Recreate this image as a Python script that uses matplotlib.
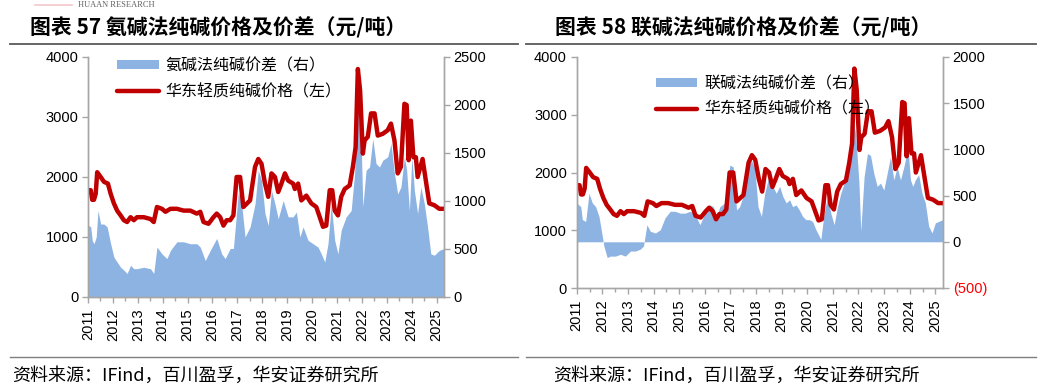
import matplotlib
matplotlib.use("Agg")
import matplotlib.pyplot as plt
from matplotlib.lines import Line2D
from matplotlib.patches import Patch
from matplotlib.ticker import FuncFormatter, MultipleLocator

plt.rcParams['font.family'] = ['Liberation Sans', 'Noto Sans CJK SC', 'DejaVu Sans']
CJK = ['Noto Sans CJK SC', 'DejaVu Sans']

# ---------------- data ----------------
# East China light soda ash price (yuan/t, left axis) - decimal year positions
price_t = [2011.00, 2011.11, 2011.17, 2011.24, 2011.31, 2011.37, 2011.51, 2011.64, 2011.80, 2011.91,
           2012.04, 2012.17, 2012.31, 2012.44, 2012.57, 2012.71, 2012.84, 2012.97, 2013.24, 2013.51,
           2013.64, 2013.77, 2013.97, 2014.11, 2014.31, 2014.57, 2014.84, 2015.11, 2015.37, 2015.51,
           2015.64, 2015.84, 2016.04, 2016.17, 2016.31, 2016.44, 2016.57, 2016.71, 2016.84, 2016.97,
           2017.11, 2017.24, 2017.51, 2017.71, 2017.84, 2017.97, 2018.11, 2018.24, 2018.37, 2018.51,
           2018.64, 2018.77, 2018.91, 2019.04, 2019.24, 2019.31, 2019.44, 2019.57, 2019.77, 2019.97,
           2020.17, 2020.31, 2020.44, 2020.57, 2020.71, 2020.81, 2020.91, 2021.04, 2021.17, 2021.31,
           2021.51, 2021.64, 2021.75, 2021.84, 2021.93, 2022.04, 2022.11, 2022.24, 2022.37, 2022.51,
           2022.64, 2022.84, 2023.04, 2023.17, 2023.31, 2023.44, 2023.57, 2023.71, 2023.80, 2023.88,
           2023.97, 2024.07, 2024.17, 2024.24, 2024.44, 2024.57, 2024.71, 2024.91, 2025.11, 2025.30]
price_v = [1780, 1780, 1620, 1620, 1720, 2080, 2000, 1920, 1890, 1720,
           1560, 1440, 1360, 1280, 1250, 1330, 1280, 1330, 1330, 1300,
           1250, 1500, 1470, 1420, 1470, 1470, 1440, 1440, 1390, 1420,
           1250, 1220, 1330, 1390, 1330, 1190, 1280, 1280, 1360, 2000,
           2000, 1500, 1610, 2170, 2300, 2220, 1890, 1670, 2060, 2000,
           1750, 1890, 2060, 1940, 1890, 1800, 1890, 1610, 1690, 1560,
           1500, 1330, 1170, 1190, 1780, 1780, 1440, 1360, 1670, 1800,
           1860, 2170, 2500, 3800, 3440, 2390, 2610, 2670, 3060, 3060,
           2690, 2720, 2780, 2890, 2610, 2060, 2170, 3220, 3200, 2280,
           2940, 2330, 2330, 2000, 2300, 1940, 1560, 1530, 1470, 1470]

# Ammonia-soda process spread (yuan/t, right axis)
sp57_t = [2011.00, 2011.11, 2011.17, 2011.24, 2011.33, 2011.40, 2011.51, 2011.64, 2011.77, 2011.91,
          2012.04, 2012.17, 2012.31, 2012.44, 2012.57, 2012.71, 2012.84, 2012.97, 2013.24, 2013.51,
          2013.64, 2013.77, 2013.97, 2014.17, 2014.31, 2014.57, 2014.84, 2015.11, 2015.37, 2015.51,
          2015.71, 2015.91, 2016.17, 2016.37, 2016.51, 2016.71, 2016.84, 2017.04, 2017.17, 2017.31,
          2017.51, 2017.71, 2017.84, 2017.97, 2018.11, 2018.24, 2018.37, 2018.51, 2018.64, 2018.84,
          2019.04, 2019.24, 2019.37, 2019.51, 2019.64, 2019.84, 2020.04, 2020.24, 2020.37, 2020.51,
          2020.64, 2020.77, 2020.91, 2021.04, 2021.17, 2021.37, 2021.57, 2021.71, 2021.84, 2021.97,
          2022.04, 2022.17, 2022.31, 2022.44, 2022.57, 2022.71, 2022.84, 2023.04, 2023.17, 2023.31,
          2023.44, 2023.57, 2023.71, 2023.80, 2023.91, 2024.01, 2024.11, 2024.24, 2024.37, 2024.51,
          2024.64, 2024.77, 2024.91, 2025.11, 2025.30]
sp57_v = [750, 730, 590, 555, 625, 900, 760, 760, 730, 555,
          415, 365, 310, 280, 245, 330, 295, 295, 310, 295,
          245, 520, 450, 400, 485, 575, 575, 555, 555, 520,
          380, 485, 610, 450, 400, 505, 505, 1095, 970, 625,
          730, 970, 1320, 1215, 870, 745, 1110, 970, 815, 1005,
          835, 835, 885, 625, 730, 590, 555, 520, 450, 365,
          555, 970, 590, 450, 695, 835, 900, 1285, 1980, 1630,
          940, 1320, 1355, 1650, 1390, 1355, 1425, 1460, 1600, 1285,
          1075, 1145, 1460, 1320, 900, 1460, 1110, 870, 1145, 970,
          730, 450, 435, 485, 505]

# Joint-soda process spread (yuan/t, right axis)
sp58_t = [2011.00, 2011.16, 2011.22, 2011.35, 2011.48, 2011.61, 2011.74, 2011.87, 2012.00, 2012.06,
          2012.19, 2012.32, 2012.51, 2012.71, 2012.90, 2013.10, 2013.29, 2013.48, 2013.61, 2013.74,
          2013.87, 2014.07, 2014.26, 2014.45, 2014.65, 2014.84, 2015.04, 2015.23, 2015.42, 2015.55,
          2015.68, 2015.81, 2016.01, 2016.20, 2016.33, 2016.46, 2016.59, 2016.78, 2016.98, 2017.11,
          2017.24, 2017.36, 2017.49, 2017.69, 2017.82, 2017.95, 2018.08, 2018.21, 2018.34, 2018.53,
          2018.66, 2018.79, 2018.92, 2019.05, 2019.18, 2019.31, 2019.43, 2019.56, 2019.69, 2019.82,
          2019.95, 2020.08, 2020.21, 2020.34, 2020.47, 2020.53, 2020.66, 2020.79, 2020.92, 2021.05,
          2021.18, 2021.31, 2021.44, 2021.57, 2021.70, 2021.79, 2021.89, 2022.02, 2022.09, 2022.22,
          2022.35, 2022.47, 2022.60, 2022.73, 2022.86, 2022.99, 2023.12, 2023.25, 2023.38, 2023.51,
          2023.64, 2023.77, 2023.83, 2023.94, 2024.03, 2024.12, 2024.22, 2024.35, 2024.48, 2024.61,
          2024.74, 2024.87, 2025.00, 2025.13, 2025.30]
sp58_v = [420, 380, 240, 220, 525, 420, 380, 275, 60, -45,
          -170, -155, -155, -135, -155, -100, -100, -80, -45, 185,
          115, 95, 130, 260, 330, 330, 310, 310, 330, 310,
          260, 185, 310, 400, 380, 275, 380, 420, 830, 810,
          345, 380, 490, 810, 885, 795, 380, 275, 525, 740,
          600, 525, 600, 490, 420, 455, 380, 400, 345, 275,
          240, 240, 220, 130, 60, 25, 310, 490, 310, 185,
          380, 525, 635, 810, 1100, 1310, 1170, 635, 115, 705,
          955, 935, 740, 600, 635, 560, 740, 920, 670, 810,
          670, 810, 885, 990, 670, 600, 670, 725, 525, 420,
          170, 95, 205, 220, 240]

years = list(range(2011, 2026))
left_ticks = [0, 1000, 2000, 3000, 4000]
right57_ticks = [0, 500, 1000, 1500, 2000, 2500]
right58_ticks = [-500, 0, 500, 1000, 1500, 2000]

titles = ["图表 57 氨碱法纯碱价格及价差（元/吨）", "图表 58 联碱法纯碱价格及价差（元/吨）"]
spread_labels = ["氨碱法纯碱价差（右）", "联碱法纯碱价差（右）"]
price_label = "华东轻质纯碱价格（左）"
source = "资料来源：IFind，百川盈孚，华安证券研究所"

# ---------------- style ----------------
RED = '#C00000'
BLUE = '#8DB3E2'
GRAY = '#A6A6A6'
W, H = 1041, 388

fig = plt.figure(figsize=(W / 100, H / 100), dpi=100)


def fx(px):
    return px / W


def fy(py):
    return 1 - py / H


def paren(v, pos):
    v = int(round(v))
    return f"({abs(v)})" if v < 0 else f"{v}"


def make_panel(rect, sp_t, sp_v, sp_label, rticks, rlim, leg_anchor):
    ax = fig.add_axes(rect)
    ax2 = ax.twinx()
    ax.set_zorder(ax2.get_zorder() + 1)
    ax.patch.set_visible(False)

    ax2.fill_between(sp_t, 0, sp_v, color=BLUE, linewidth=0)
    ax.plot(price_t, price_v, color=RED, lw=3.2, solid_joinstyle='round', solid_capstyle='round')

    ax.set_xlim(2011, 2025.3)
    ax.set_ylim(0, 4000)
    ax2.set_ylim(*rlim)
    ax.set_yticks(left_ticks)
    ax2.set_yticks(rticks)
    ax2.yaxis.set_major_formatter(FuncFormatter(paren))
    ax.set_xticks(years)
    ax.set_xticklabels([str(y) for y in years], rotation=90)
    ax.xaxis.set_minor_locator(MultipleLocator(0.5))

    for a in (ax, ax2):
        a.spines['top'].set_visible(False)
        for s in ('left', 'right', 'bottom'):
            a.spines[s].set_color(GRAY)
            a.spines[s].set_linewidth(1.0)
        a.tick_params(axis='both', which='both', direction='out', color=GRAY,
                      length=4, width=1, labelsize=10.5, pad=3)
    ax.tick_params(axis='x', which='minor', length=3)
    ax.tick_params(axis='x', pad=4)

    for lab in ax2.get_yticklabels():
        if lab.get_text().startswith('('):
            lab.set_color('red')

    handles = [Patch(facecolor=BLUE, edgecolor='none'),
               Line2D([], [], color=RED, lw=3.2, solid_capstyle='round')]
    ax.legend(handles, [sp_label, price_label],
              loc='upper left', bbox_to_anchor=leg_anchor, frameon=False,
              prop={'family': CJK, 'size': 11.5}, handlelength=2.6, handleheight=0.45,
              handletextpad=0.45, labelspacing=0.55, borderpad=0.2)
    return ax, ax2


make_panel([fx(88), fy(297), fx(444 - 88), (297 - 57) / H], sp57_t, sp57_v, spread_labels[0],
           right57_ticks, (0, 2500), (0.05, 1.045))
make_panel([fx(576.7), fy(288), fx(943 - 576.7), (288 - 57) / H], sp58_t, sp58_v, spread_labels[1],
           right58_ticks, (-500, 2000), (0.185, 0.97))

# titles
fig.text(fx(30), fy(28), titles[0], family=CJK, fontsize=15, fontweight='bold', va='center', ha='left')
fig.text(fx(555), fy(28), titles[1], family=CJK, fontsize=15, fontweight='bold', va='center', ha='left')

# header / separators
for x0, x1 in ((10, 518), (526, 1036)):
    fig.add_artist(Line2D([fx(x0), fx(x1)], [fy(44), fy(44)], color='#595959', lw=1.3))
    fig.add_artist(Line2D([fx(x0), fx(x1)], [fy(357), fy(357)], color='#7F7F7F', lw=1.0))

fig.text(fx(78), fy(5), "HUAAN RESEARCH", family=['Liberation Serif'], fontsize=6,
         color='#606060', va='center', ha='left')
fig.add_artist(Line2D([fx(35), fx(72)], [fy(5), fy(5)], color='#F2C6CC', lw=1.2))

# sources
fig.text(fx(12), fy(376), source, family=CJK, fontsize=13, va='center', ha='left')
fig.text(fx(553), fy(376), source, family=CJK, fontsize=13, va='center', ha='left')

fig.savefig('out.png', dpi=100)
